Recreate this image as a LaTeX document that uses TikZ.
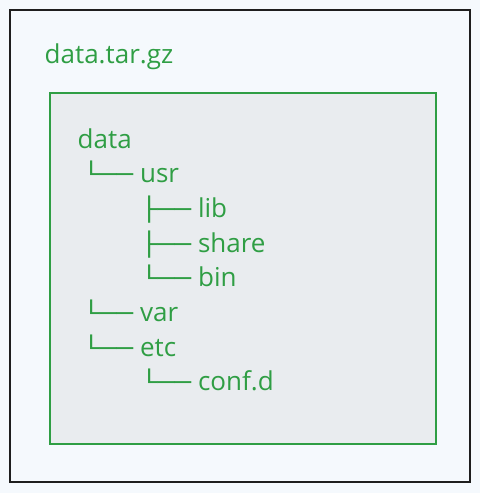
\documentclass[tikz,border=0pt]{standalone}
\usepackage{fontspec}
\setmainfont{Open Sans}
\newfontfamily\boxfont[FakeStretch=1.21]{DejaVu Sans Mono}
\definecolor{grn}{HTML}{2F9E44}
\definecolor{bgblue}{HTML}{F5F9FD}
\definecolor{innerfill}{HTML}{E9ECEF}
\definecolor{outline}{HTML}{1E1E1E}
\newcommand\treeglyph[1]{{\boxfont\fontsize{23}{28}\selectfont #1}\hspace{7pt}}
\begin{document}
\begin{tikzpicture}[x=1pt,y=-1pt,
  lbl/.style={anchor=base west, inner sep=0pt, text=grn, font=\fontsize{26}{31}\selectfont},
  box/.style={anchor=north west, inner sep=0pt, outer sep=0pt},
]
\fill[bgblue] (0,0) rectangle (480,493);
\useasboundingbox (0,0) rectangle (480,493);
\node[box, draw=outline, line width=1.6pt, fill=bgblue, minimum width=460pt, minimum height=472pt] (outer) at (10,10) {};
\node[box, draw=grn, line width=2pt, fill=innerfill, minimum width=386pt, minimum height=351pt] (inner) at (50,93) {};
\node[lbl] (title) at (44.5,63) {data.tar.gz};
\node[lbl] (data) at (77.5,148) {data};
\node[lbl] (usr) at (82.6,182.7) {\treeglyph{└──}usr};
\node[lbl] (lib) at (140.6,217.4) {\treeglyph{├──}lib};
\node[lbl] (share) at (140.6,252.1) {\treeglyph{├──}share};
\node[lbl] (bin) at (140.6,286.8) {\treeglyph{└──}bin};
\node[lbl] (var) at (82.6,321.5) {\treeglyph{└──}var};
\node[lbl] (etc) at (82.6,356.2) {\treeglyph{└──}etc};
\node[lbl] (confd) at (140.6,390.9) {\treeglyph{└──}conf.d};
\end{tikzpicture}
\end{document}
